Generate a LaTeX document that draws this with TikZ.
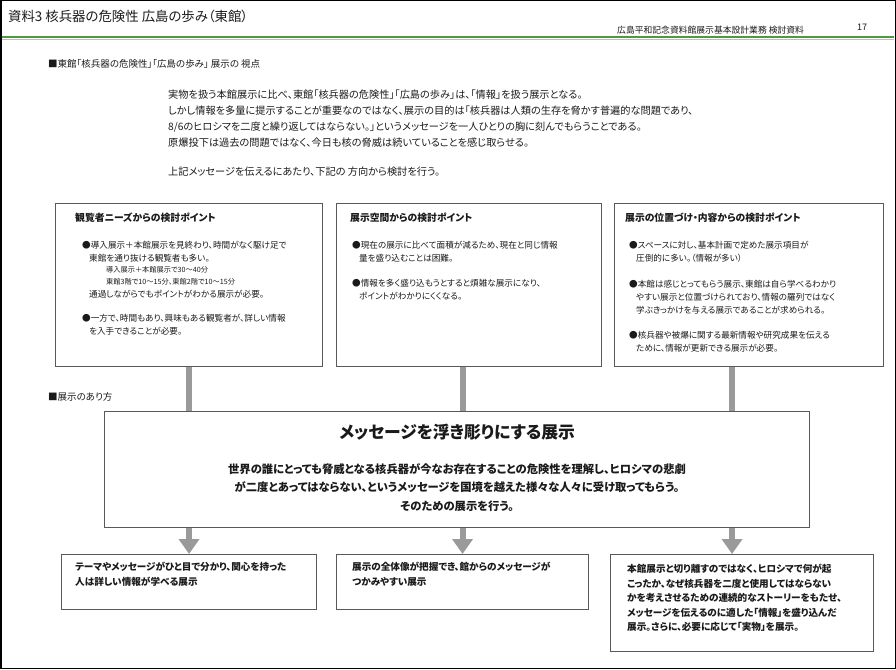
\documentclass[tikz,border=0pt]{standalone}
\usepackage{fontspec}
\setmainfont{Noto Sans CJK JP}[RawFeature={+palt}]
\usetikzlibrary{arrows.meta,positioning}
\definecolor{musInk}{HTML}{1A1A1A}
\definecolor{musEdge}{HTML}{595959}
\definecolor{musGray}{HTML}{9A9A9A}
\definecolor{musGreen}{HTML}{4E9A3C}
\definecolor{musLeaf}{HTML}{A8D293}
\tikzset{
  every picture/.style={text=musInk},
  mus box/.style={draw=musEdge, line width=1.1pt, fill=white, anchor=north west,
    inner sep=0pt},
  mus text/.style={anchor=north west, inner sep=0pt, align=left},
  mus head/.style={mus text, font=\bfseries\fontsize{9.8}{12}\selectfont},
  mus body/.style={mus text, font=\fontsize{8.6}{13}\selectfont},
  mus aim/.style={mus text, font=\bfseries\fontsize{9.6}{14.5}\selectfont},
  mus flow/.style={draw=musGray, line width=6pt,
    -{Triangle[width=20pt,length=15pt]}}
}

\begin{document}
\begin{tikzpicture}[x=1pt,y=-1pt]
  \useasboundingbox (0,0) rectangle (896,669);
  \draw[black, line width=1.5pt] (0.75,0.75) rectangle (895.25,668.25);
  \node[anchor=west, inner sep=0pt, font=\fontsize{13.4}{15}\selectfont] (title) at (8,16)
    {資料3 核兵器の危険性 広島の歩み（東館）};
  \node[anchor=west, inner sep=0pt, font=\fontsize{8.8}{10}\selectfont] (job) at (617,30)
    {広島平和記念資料館展示基本設計業務 検討資料};
  \node[inner sep=0pt, font=\fontsize{9}{10}\selectfont] (page) at (862,27) {17};
  \draw[musGreen, line width=2.4pt] (1.5,37) -- (894,37);
  \draw[musLeaf, line width=1.6pt] (1.5,39.6) -- (894,39.6);

  \node[anchor=west, inner sep=0pt, font=\fontsize{9.5}{12}\selectfont] (view) at (48,64)
    {■東館「核兵器の危険性」「広島の歩み」 展示の 視点};
  \node[mus text, font=\fontsize{10.2}{16}\selectfont] (lead) at (168,90)
    {実物を扱う本館展示に比べ、東館「核兵器の危険性」「広島の歩み」は、「情報」を扱う展示となる。\\
     しかし情報を多量に提示することが重要なのではなく、展示の目的は「核兵器は人類の生存を脅かす普遍的な問題であり、\\
     8/6のヒロシマを二度と繰り返してはならない。」というメッセージを一人ひとりの胸に刻んでもらうことである。\\
     原爆投下は過去の問題ではなく、今日も核の脅威は続いていることを感じ取らせる。\\[13pt]
     上記メッセージを伝えるにあたり、下記の 方向から検討を行う。};

  \node[mus box, minimum width=267, minimum height=163] (need) at (55,203) {};
  \node[mus box, minimum width=265, minimum height=163] (space) at (336,203) {};
  \node[mus box, minimum width=269, minimum height=163] (role) at (614,203) {};

  \node[mus head, below right=10pt and 20pt of need.north west] (needT) {観覧者ニーズからの検討ポイント};
  \node[mus body, below right=38pt and 27pt of need.north west] (needB)
    {●導入展示＋本館展示を見終わり、時間がなく駆け足で\\
     \hspace*{7pt}東館を通り抜ける観覧者も多い。\\[-2pt]
     {\fontsize{7.2}{9}\selectfont\hspace*{24pt}導入展示＋本館展示で30～40分}\\[-1pt]
     {\fontsize{7.2}{9}\selectfont\hspace*{24pt}東館3階で10～15分、東館2階で10～15分}\\
     \hspace*{7pt}通過しながらでもポイントがわかる展示が必要。\\[11pt]
     ●一方で、時間もあり、興味もある観覧者が、詳しい情報\\
     \hspace*{7pt}を入手できることが必要。};

  \node[mus head, below right=10pt and 14pt of space.north west] (spaceT) {展示空間からの検討ポイント};
  \node[mus body, below right=38pt and 16pt of space.north west] (spaceB)
    {●現在の展示に比べて面積が減るため、現在と同じ情報\\
     \hspace*{7pt}量を盛り込むことは困難。\\[12pt]
     ●情報を多く盛り込もうとすると煩雑な展示になり、\\
     \hspace*{7pt}ポイントがわかりにくくなる。};

  \node[mus head, below right=10pt and 11pt of role.north west] (roleT) {展示の位置づけ・内容からの検討ポイント};
  \node[mus body, below right=38pt and 15pt of role.north west] (roleB)
    {●スペースに対し、基本計画で定めた展示項目が\\
     \hspace*{7pt}圧倒的に多い。（情報が多い）\\[13pt]
     ●本館は感じとってもらう展示、東館は自ら学べるわかり\\
     \hspace*{7pt}やすい展示と位置づけられており、情報の羅列ではなく\\
     \hspace*{7pt}学ぶきっかけを与える展示であることが求められる。\\[12pt]
     ●核兵器や被爆に関する最新情報や研究成果を伝える\\
     \hspace*{7pt}ために、情報が更新できる展示が必要。};

  \node[anchor=west, inner sep=0pt, font=\fontsize{9.5}{12}\selectfont] (way) at (48,397) {■展示のあり方};

  \node[mus box, minimum width=255, minimum height=55] (aimA) at (61,554) {};
  \node[mus box, minimum width=252, minimum height=55] (aimB) at (336,554) {};
  \node[mus box, minimum width=263, minimum height=97] (aimC) at (610,554) {};
  \node[mus aim, below right=8.3pt and 14pt of aimA.north west] (aimAT)
    {テーマやメッセージがひと目で分かり、関心を持った\\人は詳しい情報が学べる展示};
  \node[mus aim, below right=8.3pt and 16pt of aimB.north west] (aimBT)
    {展示の全体像が把握でき、館からのメッセージが\\つかみやすい展示};
  \node[mus aim, below right=10.3pt and 17pt of aimC.north west] (aimCT)
    {本館展示と切り離すのではなく、ヒロシマで何が起\\
     こったか、なぜ核兵器を二度と使用してはならない\\
     かを考えさせるための連続的なストーリーをもたせ、\\
     メッセージを伝えるのに適した「情報」を盛り込んだ\\
     展示。さらに、必要に応じて「実物」を展示。};

  \foreach \src/\dst in {need/aimA, space/aimB}
    \draw[mus flow] (\src.south -| \dst.north) -- (\dst.north);
  \draw[mus flow] ([xshift=-10pt]aimC.north |- role.south) -- ([xshift=-10pt]aimC.north);

  \node[mus box, minimum width=705, minimum height=116] (core) at (104,411) {};
  \node[inner sep=0pt, font=\bfseries\fontsize{16.8}{18}\selectfont, below=12.6pt of core.north] (coreT)
    {メッセージを浮き彫りにする展示};
  \node[inner sep=0pt, align=center, font=\bfseries\fontsize{11.3}{18.5}\selectfont, below=52.3pt of core.north] (coreB)
    {世界の誰にとっても脅威となる核兵器が今なお存在することの危険性を理解し、ヒロシマの悲劇\\
     が二度とあってはならない、というメッセージを国境を越えた様々な人々に受け取ってもらう。\\
     そのための展示を行う。};
\end{tikzpicture}
\end{document}
